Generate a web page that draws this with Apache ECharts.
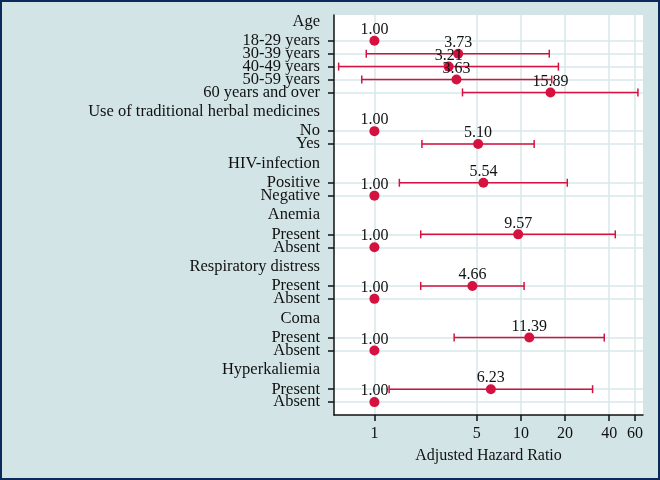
<!DOCTYPE html>
<html>
<head>
<meta charset="utf-8">
<script src="https://cdn.jsdelivr.net/npm/echarts@6/dist/echarts.min.js"></script>
<style>
  html, body { margin: 0; padding: 0; background: #d3e4e7; }
  #chart { width: 660px; height: 480px; }
</style>
</head>
<body>
<div id="chart"></div>
<script>
// ---- data ----
const groupHeaders = ['Age', 'Use of traditional herbal medicines', 'HIV-infection', 'Anemia', 'Respiratory distress', 'Coma', 'Hyperkaliemia'];
const ageRows = ['18-29 years', '30-39 years', '40-49 years', '50-59 years', '60 years and over'];
const herbalRows = ['No', 'Yes'];
const hivRows = ['Positive', 'Negative'];
const anemiaRows = ['Present', 'Absent'];
const respRows = ['Present', 'Absent'];
const comaRows = ['Present', 'Absent'];
const hyperRows = ['Present', 'Absent'];

const ageHR = [1.00, 3.73, 3.21, 3.63, 15.89];
const ageLow = [null, 0.88, 0.57, 0.82, 3.99];
const ageHigh = [null, 15.6, 18.0, 16.2, 62.8];
const herbalHR = [1.00, 5.10];
const herbalLow = [null, 2.11];
const herbalHigh = [null, 12.3];
const hivHR = [5.54, 1.00];
const hivLow = [1.48, null];
const hivHigh = [20.7, null];
const anemiaHR = [9.57, 1.00];
const anemiaLow = [2.07, null];
const anemiaHigh = [44.0, null];
const respHR = [4.66, 1.00];
const respLow = [2.07, null];
const respHigh = [10.5, null];
const comaHR = [11.39, 1.00];
const comaLow = [3.50, null];
const comaHigh = [37.0, null];
const hyperHR = [6.23, 1.00];
const hyperLow = [1.26, null];
const hyperHigh = [30.8, null];

const xTicks = [1, 5, 10, 20, 40, 60];
const xTitle = 'Adjusted Hazard Ratio';

// ---- build category slots ----
const groups = [
  [ageRows, ageHR, ageLow, ageHigh],
  [herbalRows, herbalHR, herbalLow, herbalHigh],
  [hivRows, hivHR, hivLow, hivHigh],
  [anemiaRows, anemiaHR, anemiaLow, anemiaHigh],
  [respRows, respHR, respLow, respHigh],
  [comaRows, comaHR, comaLow, comaHigh],
  [hyperRows, hyperHR, hyperLow, hyperHigh]
];
const slots = [''];
const kinds = ['blank'];
const points = [];
const bars = [];
groups.forEach((g, gi) => {
  slots.push(groupHeaders[gi], '', ''); kinds.push('header', 'blank', 'blank');
  g[0].forEach((lab, ri) => {
    const idx = slots.length;
    slots.push(lab); kinds.push('row');
    slots.push(''); kinds.push('blank');
    points.push([g[1][ri], idx]);
    if (g[2][ri] != null) bars.push([g[2][ri], idx, g[3][ri]]);
  });
  slots.push(''); kinds.push('blank');
});
const lastSlot = slots.length - 1;

const FONT = "'Liberation Serif', 'Times New Roman', serif";
const RED = '#d5123f';

const chart = echarts.init(document.getElementById('chart'));
chart.setOption({
  backgroundColor: '#d3e4e7',
  animation: false,
  graphic: [{
    type: 'rect', z: 100, silent: true,
    shape: { x: 1, y: 1, width: 658, height: 478 },
    style: { fill: 'none', stroke: '#0b2a5a', lineWidth: 2 }
  }],
  grid: {
    left: 334, right: 17, top: 15, bottom: 65,
    show: true, backgroundColor: '#ffffff', borderWidth: 0
  },
  xAxis: {
    type: 'log', logBase: 10, min: 0.53, max: 68,
    name: xTitle, nameLocation: 'middle', nameGap: 33,
    nameTextStyle: { fontFamily: FONT, fontSize: 16, color: '#111' },
    axisLine: { show: true, onZero: false, lineStyle: { color: '#111', width: 1.5 } },
    axisTick: { show: true, length: 6, customValues: xTicks, lineStyle: { color: '#111', width: 1.5 } },
    axisLabel: { customValues: xTicks, margin: 11, fontFamily: FONT, fontSize: 16, color: '#111',
      formatter: v => String(Math.round(v)) },
    splitLine: { show: true, lineStyle: { color: '#d6e9eb', width: 1.5 } },
    minorTick: { show: false }, minorSplitLine: { show: false }
  },
  yAxis: {
    type: 'category', inverse: true, boundaryGap: false,
    data: slots,
    axisLine: { show: true, lineStyle: { color: '#111', width: 1.5 } },
    axisTick: { show: true, length: 6, interval: (i) => kinds[i] === 'row', lineStyle: { color: '#111', width: 1.5 } },
    axisLabel: { interval: (i) => kinds[i] !== 'blank' || i === 0 || i === lastSlot, hideOverlap: false,
      margin: 14, fontFamily: FONT, fontSize: 16.5, lineHeight: 11, color: '#111' },
    splitLine: { show: true, interval: (i) => kinds[i] === 'row', lineStyle: { color: '#d6e9eb', width: 1.5 } }
  },
  series: [
    {
      type: 'custom',
      z: 2,
      encode: { x: [0, 2], y: 1 },
      data: bars,
      renderItem: (params, api) => {
        const y = api.value(1);
        const a = api.coord([api.value(0), y]);
        const b = api.coord([api.value(2), y]);
        const st = { stroke: RED, lineWidth: 1.5 };
        return {
          type: 'group',
          children: [
            { type: 'line', shape: { x1: a[0], y1: a[1], x2: b[0], y2: b[1] }, style: st },
            { type: 'line', shape: { x1: a[0], y1: a[1] - 4, x2: a[0], y2: a[1] + 4 }, style: st },
            { type: 'line', shape: { x1: b[0], y1: b[1] - 4, x2: b[0], y2: b[1] + 4 }, style: st }
          ]
        };
      }
    },
    {
      type: 'scatter',
      z: 3,
      symbol: 'circle',
      symbolSize: 10,
      itemStyle: { color: RED, opacity: 1 },
      data: points,
      label: {
        show: true, position: 'top', distance: -2,
        fontFamily: FONT, fontSize: 16, color: '#111',
        formatter: p => p.value[0].toFixed(2)
      }
    }
  ]
});
</script>
</body>
</html>
